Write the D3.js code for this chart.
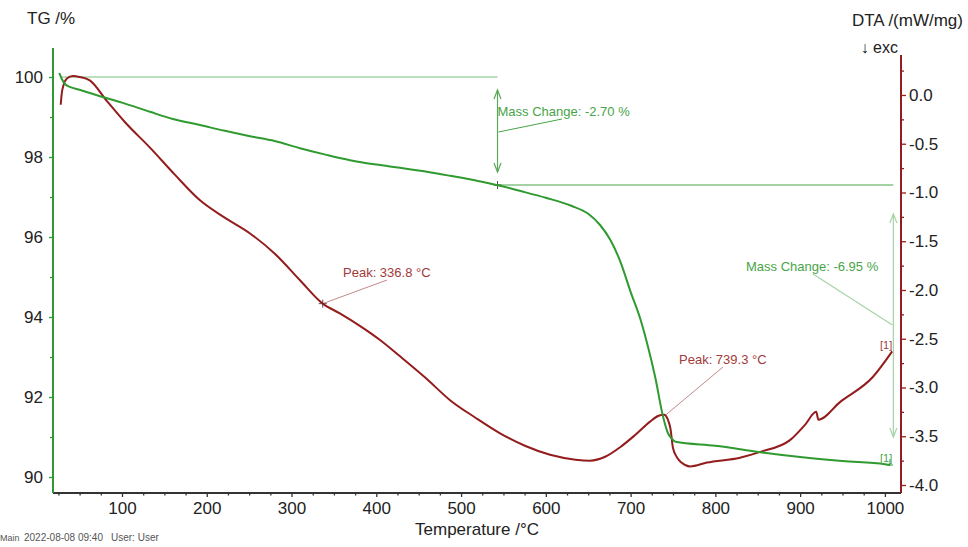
<!DOCTYPE html>
<html><head><meta charset="utf-8">
<script src="https://cdn.jsdelivr.net/npm/d3@7"></script>
<style>
body{margin:0;background:#fff;}
svg{display:block;font-family:"Liberation Sans",Arial,sans-serif;}
</style></head>
<body><svg id="c" width="968" height="547"></svg>
<script>
// ---- data ----
const tgTemp = [26,29,33,40,50,74,100,133,160,192,220,251,280,310,340,369,400,428,460,487,520,546,570,600,630,650,664,676,688,700,711.5,720,729,738.4,744,749,753,800,853,900,950,1000,1006];
const tgMass = [100.1,99.95,99.82,99.74,99.68,99.52,99.36,99.13,98.95,98.8,98.66,98.52,98.4,98.22,98.06,97.92,97.81,97.73,97.63,97.53,97.4,97.28,97.15,96.98,96.78,96.58,96.3,95.93,95.38,94.63,93.95,93.3,92.5,91.5,91.1,90.95,90.88,90.78,90.62,90.5,90.4,90.32,90.3];

const dtaTemp = [27.7,29,31,35,42,50,62,82,103.6,133,162.6,192,221.6,251,280.6,310,336.8,357,381,404,428,458,487,517,546,576,605,635,652,670,688,705,723,733,739.3,744,747,750,755,760,770,790,829,853,888,906,919,921.5,947,986,1008.6];
const dtaVal = [-0.10,0.02,0.10,0.17,0.195,0.185,0.15,-0.06,-0.28,-0.54,-0.82,-1.08,-1.26,-1.42,-1.63,-1.90,-2.14,-2.24,-2.37,-2.51,-2.68,-2.90,-3.13,-3.31,-3.47,-3.60,-3.69,-3.74,-3.75,-3.71,-3.61,-3.49,-3.35,-3.29,-3.28,-3.33,-3.42,-3.62,-3.72,-3.77,-3.81,-3.77,-3.72,-3.66,-3.54,-3.38,-3.25,-3.33,-3.15,-2.89,-2.63];

const xTicks = [100,200,300,400,500,600,700,800,900,1000];
const tgTicks = [90,92,94,96,98,100];
const dtaTicks = [0,-0.5,-1,-1.5,-2,-2.5,-3,-3.5,-4];

const massStepLevels = [100, 97.3, 90.35];
const massStepTemps = [27, 543, 1010];
const massLabels = ["Mass Change: -2.70 %", "Mass Change: -6.95 %"];
const peakTemps = [336.8, 739.3];
const peakLabels = ["Peak: 336.8 °C", "Peak: 739.3 °C"];

// ---- setup ----
const svg = d3.select("#c");
const x = d3.scaleLinear().domain([18.6, 1019]).range([53, 901]);
const yT = d3.scaleLinear().domain([89.6, 100.725]).range([493, 48]);
const yD = d3.scaleLinear().domain([-4.082, 0.41]).range([493, 55]);

const GREEN = "#2f9a2f", RED = "#931c1c", LGREEN = "#a6d4a6", TGREEN = "#48a448", TRED = "#a23a3a";
const FONT = 17;

const minorX = d3.range(25, 1001, 25).filter(v => v % 100 !== 0);
const minorT = [91,93,95,97,99];
const minorD = d3.range(-3.75, 0.3, 0.5);

function styleAxis(g, col){
  g.select(".domain").remove();
  g.selectAll("line").attr("stroke", col).attr("stroke-width", 1.3);
  g.selectAll("text").attr("fill", "#222").style("font-size", FONT + "px");
}

// bottom
const gx = svg.append("g").attr("transform","translate(0,493)")
  .call(d3.axisBottom(x).tickValues(xTicks).tickSize(4).tickPadding(5).tickFormat(d3.format("d")));
styleAxis(gx, "#333");
svg.append("g").attr("transform","translate(0,493)")
  .call(d3.axisBottom(x).tickValues(minorX).tickSize(2.5).tickFormat(""))
  .call(g => styleAxis(g, "#333"));
svg.append("line").attr("x1",53).attr("x2",901).attr("y1",493).attr("y2",493).attr("stroke","#333").attr("stroke-width",2);

// left
const gl = svg.append("g").attr("transform","translate(53,0)")
  .call(d3.axisLeft(yT).tickValues(tgTicks).tickSize(4).tickPadding(6).tickFormat(d3.format("d")));
styleAxis(gl, GREEN);
svg.append("g").attr("transform","translate(53,0)")
  .call(d3.axisLeft(yT).tickValues(minorT).tickSize(3).tickFormat(""))
  .call(g => styleAxis(g, GREEN));
svg.append("line").attr("x1",53).attr("x2",53).attr("y1",48).attr("y2",493).attr("stroke",GREEN).attr("stroke-width",2);

// right
const gr = svg.append("g").attr("transform","translate(901,0)")
  .call(d3.axisRight(yD).tickValues(dtaTicks).tickSize(5).tickPadding(3).tickFormat(d3.format(".1f")));
styleAxis(gr, RED);
gr.selectAll("text").text(d => d3.format(".1f")(d).replace("−","-"));
svg.append("g").attr("transform","translate(901,0)")
  .call(d3.axisRight(yD).tickValues(minorD).tickSize(3).tickFormat(""))
  .call(g => styleAxis(g, RED));
svg.append("line").attr("x1",901).attr("x2",901).attr("y1",55).attr("y2",493).attr("stroke",RED).attr("stroke-width",2);

// titles
svg.append("text").attr("x",27).attr("y",24).text("TG /%").attr("fill","#222").style("font-size",FONT+"px");
svg.append("text").attr("x",963).attr("y",26).attr("text-anchor","end").text("DTA /(mW/mg)").attr("fill","#222").style("font-size",FONT+"px");
svg.append("text").attr("x",898).attr("y",53).attr("text-anchor","end").text("↓ exc").attr("fill","#222").style("font-size","16px");
svg.append("text").attr("x",477).attr("y",535).attr("text-anchor","middle").text("Temperature /°C").attr("fill","#222").style("font-size",FONT+"px");

// footer
svg.append("text").attr("x",0).attr("y",541).text("Main").attr("fill","#555").style("font-size","9px");
svg.append("text").attr("x",24).attr("y",541).text("2022-08-08 09:40").attr("fill","#555").style("font-size","10px");
svg.append("text").attr("x",111).attr("y",541).text("User: User").attr("fill","#555").style("font-size","10px");

// ---- annotations (mass change) ----
const ann = svg.append("g").attr("fill","none");
ann.append("line").attr("x1",x(massStepTemps[0])).attr("x2",x(massStepTemps[1]))
  .attr("y1",yT(massStepLevels[0])).attr("y2",yT(massStepLevels[0])).attr("stroke",LGREEN).attr("stroke-width",1.3);
ann.append("line").attr("x1",x(massStepTemps[1])).attr("x2",x(massStepTemps[2]))
  .attr("y1",yT(massStepLevels[1])).attr("y2",yT(massStepLevels[1])).attr("stroke",TGREEN).attr("stroke-width",1);

function dblArrow(xp, y1, y2, col){
  ann.append("line").attr("x1",xp).attr("x2",xp).attr("y1",y1).attr("y2",y2).attr("stroke",col).attr("stroke-width",1.2);
  ann.append("path").attr("d",`M${xp-3.5},${y1+9}L${xp},${y1}L${xp+3.5},${y1+9}`).attr("stroke",col).attr("stroke-width",1.2);
  ann.append("path").attr("d",`M${xp-3.5},${y2-9}L${xp},${y2}L${xp+3.5},${y2-9}`).attr("stroke",col).attr("stroke-width",1.2);
}
const ax1 = x(massStepTemps[1]);
dblArrow(ax1, yT(massStepLevels[0]) + 13, yT(massStepLevels[1]) - 13, "#5aa85a");
const ax2 = x(massStepTemps[2]);
dblArrow(ax2, yT(massStepLevels[1]) + 29, yT(massStepLevels[2]) - 26, LGREEN);

svg.append("text").attr("x",ax1).attr("y",116).text(massLabels[0]).attr("fill",TGREEN).style("font-size","13px");
ann.append("line").attr("x1",562).attr("y1",119).attr("x2",ax1+1).attr("y2",132).attr("stroke",TGREEN).attr("stroke-width",1);
svg.append("text").attr("x",746).attr("y",271).text(massLabels[1]).attr("fill",TGREEN).style("font-size","13px");
ann.append("line").attr("x1",813).attr("y1",274).attr("x2",ax2-1).attr("y2",325).attr("stroke",LGREEN).attr("stroke-width",1.2);

// ---- curves ----
const tgData = tgTemp.map((t,i)=>[t,tgMass[i]]);
const dtaData = dtaTemp.map((t,i)=>[t,dtaVal[i]]);
svg.append("path").datum(dtaData).attr("fill","none").attr("stroke",RED).attr("stroke-width",2)
  .attr("d", d3.line().x(d=>x(d[0])).y(d=>yD(d[1])).curve(d3.curveMonotoneX));
svg.append("path").datum(tgData).attr("fill","none").attr("stroke",GREEN).attr("stroke-width",2)
  .attr("d", d3.line().x(d=>x(d[0])).y(d=>yT(d[1])).curve(d3.curveMonotoneX));

// peak annotations
function peakVal(t){ const i = dtaTemp.indexOf(t); return dtaVal[i]; }
const p1x = x(peakTemps[0]), p1y = yD(peakVal(peakTemps[0]));
const p2x = x(peakTemps[1]), p2y = yD(peakVal(peakTemps[1]));
svg.append("text").attr("x",343).attr("y",277).text(peakLabels[0]).attr("fill",TRED).style("font-size","13px");
ann.append("line").attr("x1",387).attr("y1",280).attr("x2",p1x).attr("y2",p1y).attr("stroke","#c48a8a").attr("stroke-width",1);
svg.append("text").attr("x",679).attr("y",364).text(peakLabels[1]).attr("fill",TRED).style("font-size","13px");
ann.append("line").attr("x1",723).attr("y1",367).attr("x2",p2x+2).attr("y2",p2y).attr("stroke","#c48a8a").attr("stroke-width",1);

function cross(cx, cy){
  ann.append("path").attr("d",`M${cx-4},${cy}H${cx+4}M${cx},${cy-4}V${cy+4}`).attr("stroke","#555").attr("stroke-width",1);
}
cross(ax1, yT(massStepLevels[1]));
cross(p1x, p1y);

const lastT = tgTemp[tgTemp.length-1];
svg.append("text").attr("x",880).attr("y",349).text("[1]").attr("fill",TRED).style("font-size","11px");
svg.append("text").attr("x",880).attr("y",462).text("[1]").attr("fill",TGREEN).style("font-size","11px");
ann.append("path").attr("d",`M${x(lastT)},${yT(90.3)}V${yT(90.45)}M${x(lastT)-3},${yT(90.3)}H${x(lastT)+3}`).attr("stroke",GREEN).attr("stroke-width",1);
</script></body></html>
